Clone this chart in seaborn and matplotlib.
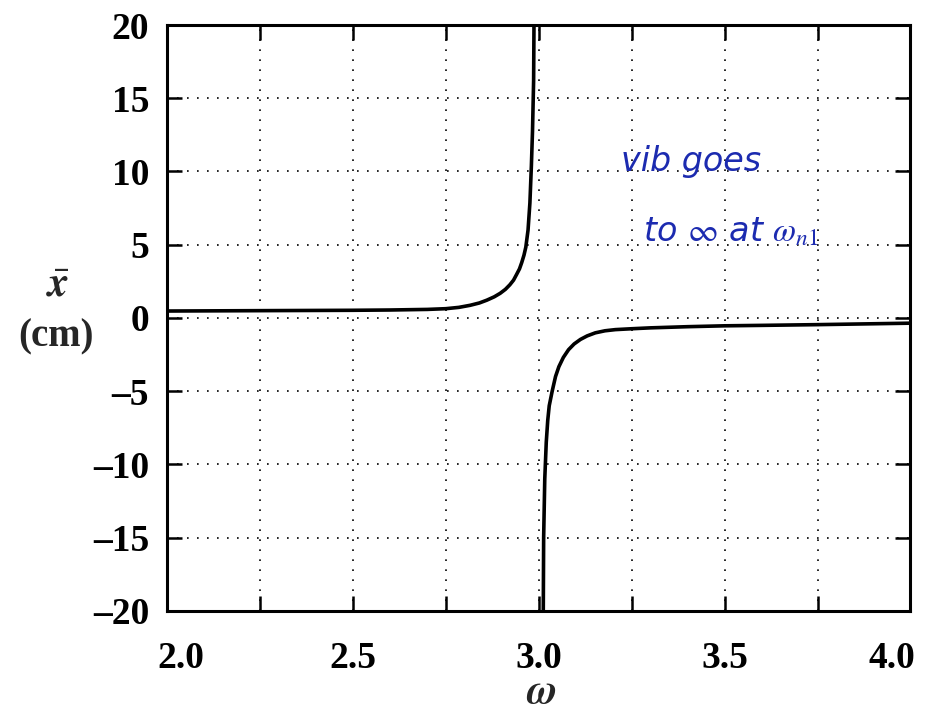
import numpy as np
import pandas as pd
import matplotlib
matplotlib.use("Agg")
import matplotlib.pyplot as plt
import matplotlib.transforms as mtransforms
import seaborn as sns

# Steady-state amplitude of the forced system, split at the resonance
omega_low = [2.00, 2.10, 2.20, 2.30, 2.40, 2.50, 2.60, 2.70, 2.75, 2.785,
             2.815, 2.84, 2.86, 2.88, 2.896, 2.91, 2.922, 2.932, 2.940, 2.948,
             2.954, 2.960, 2.965, 2.971, 2.976, 2.980, 2.983, 2.986, 2.987]
xbar_low = [0.47, 0.48, 0.49, 0.50, 0.51, 0.52, 0.54, 0.58, 0.63, 0.72,
            0.86, 1.02, 1.21, 1.44, 1.68, 1.95, 2.26, 2.58, 2.96, 3.35,
            3.78, 4.28, 4.83, 6.00, 7.85, 10.4, 12.75, 16.2, 20.0]

omega_high = [3.012, 3.013, 3.016, 3.020, 3.024, 3.028, 3.036, 3.045, 3.054,
              3.066, 3.080, 3.095, 3.112, 3.130, 3.152, 3.178, 3.206, 3.25,
              3.30, 3.40, 3.50, 3.60, 3.75, 3.90, 4.00]
xbar_high = [-20.0, -15.0, -11.0, -8.5, -7.0, -6.0, -5.0, -4.0, -3.33,
             -2.7, -2.17, -1.78, -1.47, -1.23, -1.02, -0.88, -0.80, -0.74,
             -0.68, -0.60, -0.54, -0.51, -0.46, -0.40, -0.36]

x_ticks = [2.0, 2.5, 3.0, 3.5, 4.0]
y_ticks = [20, 15, 10, 5, 0, -5, -10, -15, -20]

sns.set_style("ticks")
plt.rcParams["font.family"] = ["Liberation Serif", "DejaVu Serif"]
plt.rcParams["mathtext.fontset"] = "stix"

fig = plt.figure(figsize=(9.29, 7.16), dpi=100)
ax = fig.add_axes([0.180, 0.147, 0.800, 0.818])

low = pd.DataFrame({"omega": omega_low, "xbar": xbar_low})
high = pd.DataFrame({"omega": omega_high, "xbar": xbar_high})
for df in (low, high):
    sns.lineplot(data=df, x="omega", y="xbar", color="black", linewidth=2.6,
                 estimator=None, sort=False, ax=ax)

ax.set_xlim(2.0, 4.0)
ax.set_ylim(-20, 20)
minor_x = np.arange(2.0, 4.01, 0.25)
ax.set_xticks(minor_x)
ax.set_xticklabels([f"{t:.1f}" if any(abs(t - m) < 1e-9 for m in x_ticks) else ""
                    for t in minor_x])
ax.set_yticks(y_ticks)
ax.set_yticklabels([f"{t}".replace("-", "\u2013") for t in y_ticks])

ax.grid(True, color="black", linestyle=(0, (1, 5)), linewidth=1.2)
ax.tick_params(direction="in", length=11, width=1.8, top=True, right=True,
               labelsize=27, colors="black")
ax.tick_params(axis="x", pad=22)
ax.tick_params(axis="y", pad=13)
for lab in ax.get_xticklabels() + ax.get_yticklabels():
    lab.set_fontweight("bold")

# the end labels of the frequency axis sit inside the frame
xlabs = ax.get_xticklabels()
for lab, dx in ((xlabs[0], 14), (xlabs[-1], -19)):
    lab.set_transform(lab.get_transform() +
                      mtransforms.ScaledTranslation(dx / 100, 0, fig.dpi_scale_trans))

for s in ax.spines.values():
    s.set_linewidth(2.2)
    s.set_color("black")

ax.set_xlabel("")
ax.set_ylabel("")
fig.text(0.582, 0.032, r"$\mathbfit{\omega}$", fontsize=30, ha="center",
         va="center")
fig.text(0.062, 0.600, r"$\bar{\mathbfit{x}}$", fontsize=30, ha="center",
         va="center")
fig.text(0.060, 0.530, "(cm)", fontsize=28, fontweight="bold",
         ha="center", va="center")

hand = dict(color="#1c2bb0", fontsize=24, family="DejaVu Sans",
            fontstyle="italic", transform=ax.transAxes)
ax.text(0.61, 0.75, "vib goes", **hand)
ax.text(0.64, 0.63, r"to $\infty$ at $\omega_{n1}$", **hand)

fig.savefig("out.png", dpi=100, facecolor="white")
